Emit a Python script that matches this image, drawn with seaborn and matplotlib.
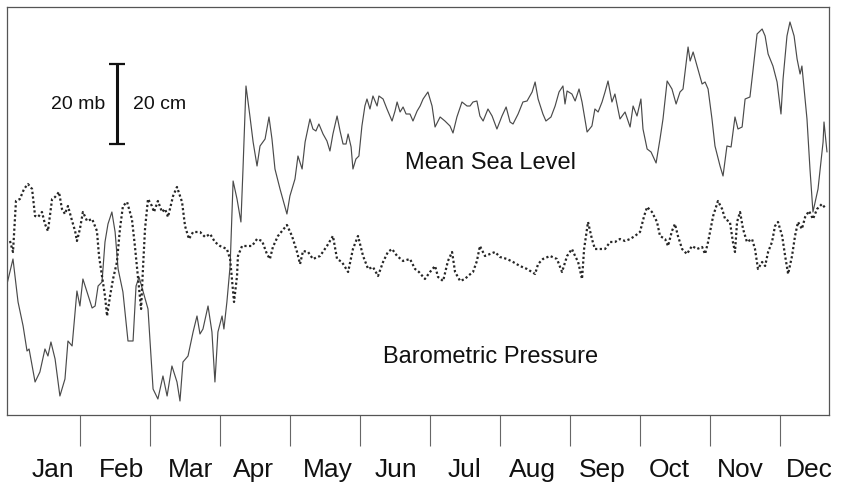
import matplotlib
matplotlib.use("Agg")
import matplotlib.pyplot as plt
import pandas as pd
import seaborn as sns

# ---------------- data ----------------
months = ["Jan", "Feb", "Mar", "Apr", "May", "Jun",
          "Jul", "Aug", "Sep", "Oct", "Nov", "Dec"]
month_bounds = [30.4, 60.8, 91.3, 121.7, 152.1, 182.5,
                212.9, 243.3, 273.8, 304.2, 334.6]
label_pos = [18.5, 48.5, 78.5, 106.0, 138.0, 168.0,
             197.5, 227.0, 257.5, 286.5, 317.5, 347.5]

# Mean sea level (cm, arbitrary datum) vs day of year
msl_day = [-1.3, 1.3, 3.5, 5.7, 7.4, 8.3, 10.9, 13.0, 15.2, 16.5,
           17.8, 19.6, 21.7, 23.9, 25.2, 27.0, 28.3, 29.1, 30.4, 31.7,
           33.5, 35.7, 37.0, 38.3, 40.0, 41.3, 42.6, 44.3, 45.7, 47.0,
           49.1, 51.3, 53.5, 54.8, 56.1, 57.8, 60.0, 62.2, 64.3, 66.5,
           68.3, 70.4, 72.6, 73.9, 75.2, 77.4, 79.6, 81.3, 82.6, 83.9,
           86.1, 87.8, 89.1, 90.4, 92.2, 93.0, 94.3, 95.7, 97.0, 98.7,
           100.4, 101.3, 102.6, 104.3, 105.7, 107.4, 108.7, 110.9, 112.6, 113.9,
           115.2, 117.4, 120.4, 121.7, 123.9, 125.2, 127.0, 128.3, 130.4, 131.7,
           133.0, 134.3, 136.1, 137.8, 139.1, 140.4, 142.2, 143.5, 144.8, 146.1,
           147.0, 148.3, 149.1, 150.4, 151.7, 153.0, 154.3, 155.2, 156.5, 157.8,
           159.6, 160.4, 162.2, 163.9, 166.1, 167.4, 168.3, 169.6, 170.9, 172.2,
           173.9, 175.2, 177.0, 178.3, 179.6, 181.7, 183.5, 184.8, 187.0, 189.1,
           191.3, 192.6, 194.3, 196.5, 198.7, 200.0, 201.3, 203.0, 204.3, 205.7,
           207.8, 209.6, 211.7, 213.9, 215.7, 217.4, 218.7, 220.9, 223.0, 224.8,
           227.0, 228.3, 229.6, 231.7, 233.0, 235.2, 237.0, 238.7, 240.4, 241.3,
           242.2, 244.3, 245.7, 247.4, 248.7, 250.9, 253.0, 254.3, 255.7, 257.4,
           258.7, 260.0, 261.7, 263.0, 265.2, 267.4, 269.6, 270.9, 272.6, 274.3,
           275.2, 277.0, 278.7, 280.9, 282.6, 283.9, 285.7, 287.8, 289.6, 291.3,
           292.6, 294.8, 295.7, 297.0, 298.7, 300.9, 302.2, 303.5, 305.2, 306.5,
           308.7, 310.0, 311.7, 313.5, 315.2, 316.5, 318.3, 319.6, 321.7, 323.0,
           324.8, 327.0, 328.3, 329.6, 331.7, 333.5, 335.2, 336.1, 337.8, 339.1,
           340.9, 342.2, 343.5, 344.3, 346.5, 347.8, 349.1, 351.3, 353.5, 353.9,
           355.2]
msl_cm = [32.75, 39, 28.25, 22.25, 16, 16.5, 8.25, 10.75, 16.5, 14.75,
          18.25, 14, 4.75, 9, 18.5, 17.25, 25.75, 31, 27.25, 34,
          30.75, 26.75, 27.25, 32.25, 33.25, 43.25, 47.75, 50.75, 45.75, 36.5,
          30.75, 18.5, 18.5, 32.25, 34.5, 31, 26.5, 6.5, 4, 9.75,
          4.75, 12.25, 8.25, 3.5, 13.25, 14.75, 20.75, 24.75, 20.25, 21.5,
          27.25, 20.75, 8.25, 20.75, 24.75, 21.5, 28.25, 37.25, 58.5, 54,
          48.25, 61.5, 82.25, 74.75, 68.25, 62.25, 67.25, 69, 74.5, 69,
          61.5, 56.5, 50.25, 54.75, 59, 64.75, 61.5, 68.25, 74, 71.5,
          71, 72.75, 70.25, 68.5, 66, 70.25, 74.75, 71, 67.75, 67.75,
          70.25, 67, 61.5, 64, 64.75, 72.25, 77.25, 79, 76.5, 79.75,
          77.25, 79.75, 79, 76.5, 73.5, 76, 78.25, 75.75, 77, 75.25,
          75.25, 73.5, 76, 77.25, 79, 80.75, 77.25, 72, 74.5, 73.5,
          72.25, 70.5, 74.5, 78.25, 77.25, 77.25, 78.25, 78.5, 74.75, 73.5,
          76.5, 74.75, 71.5, 74.75, 77, 73.25, 72.75, 75.25, 78.25, 78.5,
          80.75, 83.25, 79, 75.25, 73.5, 74.5, 77.25, 80.75, 82.25, 77.75,
          81, 80.25, 78.5, 81.5, 78.25, 70.75, 72.25, 76.5, 75.75, 78.25,
          80.75, 83.5, 78.25, 80.25, 74, 75.75, 72, 77.25, 74.75, 79,
          71.5, 66.5, 65.75, 63, 69, 74, 83.5, 81.5, 77.75, 80.75,
          81.5, 92, 88.5, 90.75, 87.25, 82.75, 83.25, 81.5, 74, 67.25,
          62.25, 59.75, 67.25, 67, 74.5, 71.5, 72, 79, 79.5, 86,
          95.25, 96.5, 94.75, 90.25, 87.25, 83.25, 75.25, 84, 94.75, 98.25,
          94.75, 89, 85.25, 87.25, 74, 61.5, 50.75, 56.5, 68.25, 73.25,
          65.75]

# Barometric pressure (mb, inverted-barometer scale) vs day of year
bp_day = [0, 1.3, 2.6, 4.3, 6.1, 7.8, 9.6, 10.9, 12.2, 13.9,
          15.2, 16.5, 18.3, 19.6, 21.3, 22.6, 23.9, 25.2, 27.0, 28.3,
          29.1, 30.4, 31.7, 33.5, 35.7, 37.8, 38.7, 40.0, 41.3, 42.2,
          43.5, 44.8, 46.5, 47.8, 49.1, 50.9, 53.0, 54.3, 55.7, 57.0,
          57.8, 58.7, 60.0, 61.7, 62.6, 64.3, 66.1, 67.4, 68.7, 70.9,
          72.6, 74.8, 76.1, 77.8, 79.6, 82.6, 84.8, 87.0, 89.1, 91.3,
          94.3, 95.7, 96.5, 97.4, 98.7, 99.1, 100.9, 103.0, 105.2, 107.4,
          109.6, 111.7, 113.0, 114.3, 116.5, 120.4, 122.6, 124.8, 126.1, 127.4,
          129.6, 131.7, 134.8, 137.8, 140.4, 142.2, 144.3, 147.0, 149.1, 151.3,
          153.5, 155.7, 157.8, 160.0, 162.2, 164.3, 166.1, 168.3, 170.9, 173.9,
          176.1, 177.8, 180.4, 182.6, 184.8, 186.1, 188.3, 190.4, 192.2, 193.5,
          195.7, 197.8, 199.1, 201.3, 203.0, 204.3, 206.5, 208.7, 210.9, 213.0,
          216.1, 218.7, 221.7, 224.8, 228.3, 229.6, 231.7, 234.8, 237.8, 240.0,
          242.2, 244.3, 245.7, 247.0, 248.7, 249.6, 251.3, 253.0, 254.3, 256.5,
          258.7, 260.9, 263.0, 265.2, 267.4, 269.6, 271.7, 273.9, 275.7, 277.0,
          279.1, 281.3, 282.6, 284.8, 286.1, 287.8, 289.1, 290.4, 292.2, 294.3,
          296.5, 298.7, 300.9, 302.2, 303.5, 305.7, 307.8, 309.6, 310.9, 313.0,
          314.3, 315.2, 316.1, 317.4, 318.7, 320.4, 322.6, 323.9, 325.2, 327.0,
          328.3, 329.6, 331.3, 332.6, 333.9, 335.7, 337.0, 338.3, 340.0, 341.3,
          342.6, 344.3, 345.7, 347.4, 349.1, 350.9, 353.0, 354.8]
bp_mb = [43.5, 40.75, 53.5, 54, 56.5, 57.75, 56.5, 49.75, 49.5, 50.75,
         47.75, 46, 54, 54.5, 55.75, 51.5, 50.25, 52.25, 48.5, 46,
         43.5, 46.5, 50.75, 48.5, 49, 46, 39.75, 34.75, 29.75, 24.75,
         29.75, 34, 38.25, 46.5, 52.25, 53.25, 49, 42.25, 34, 26.5,
         36.5, 46.5, 54, 52.25, 50.75, 53.5, 50.75, 51.5, 49.5, 54.75,
         57, 53.25, 47.25, 44, 45.75, 45.75, 44.5, 45.25, 43.25, 42.25,
         41.5, 39, 34, 28.25, 34.75, 39.75, 42.25, 42.25, 42.25, 44,
         43.5, 40.25, 39, 42, 44.75, 47.5, 44.75, 40.75, 37.75, 41,
         40.75, 39, 39.75, 42.25, 44.75, 39, 38.25, 35.75, 41.5, 44.75,
         39.75, 36.5, 37, 34.75, 38.25, 40.75, 41.5, 39.75, 38.5, 39,
         36.5, 35.75, 34, 35.75, 37.25, 34.5, 33.5, 38.5, 40.75, 35.75,
         33.5, 34, 34.75, 35.75, 38.5, 42.25, 39.75, 40.25, 40.75, 39.5,
         39, 38.25, 37.25, 36.5, 35.25, 37.75, 39, 39.75, 39, 35.75,
         39.75, 41.5, 39.75, 38.25, 34, 41.5, 48.25, 44, 41.5, 41.5,
         41.5, 43.25, 43.25, 44, 43.5, 44, 44.75, 45.75, 49.75, 52,
         50.75, 48.25, 44.75, 44, 42.25, 46, 47.75, 44.75, 41.5, 40.25,
         42.25, 41.5, 42, 40.25, 43.25, 49.75, 53.5, 51.5, 49, 48.25,
         43.25, 40.75, 48.25, 50.75, 46.5, 43.25, 44, 41.5, 36.5, 38.25,
         37.25, 40.75, 43.25, 47.25, 48.25, 44.75, 39.75, 35.25, 39.75, 44.75,
         48.25, 46.5, 49.5, 51, 49, 51.5, 52.75, 51.5]

msl = pd.DataFrame({"day": msl_day, "value": msl_cm})
bp = pd.DataFrame({"day": bp_day, "value": bp_mb})

# ---------------- styling ----------------
sns.set_style("white")
plt.rcParams["font.family"] = ["Liberation Sans", "DejaVu Sans"]

fig = plt.figure(figsize=(8.44, 4.85), dpi=100)
ax = fig.add_axes([0.0083, 0.1423, 0.974, 0.8412])

sns.lineplot(data=msl, x="day", y="value", ax=ax, color="#4a4a4a",
             linewidth=0.85, estimator=None, sort=False)
sns.lineplot(data=bp, x="day", y="value", ax=ax, color="#262626",
             linewidth=1.6, linestyle=(0, (1, 1.1)), estimator=None, sort=False)

ax.set_xlim(-1.3, 356.1)
ax.set_ylim(0, 102)
ax.set_xlabel("")
ax.set_ylabel("")
ax.set_yticks([])

ax.set_xticks(month_bounds)
ax.set_xticklabels([])
ax.set_xticks(label_pos, minor=True)
ax.set_xticklabels(months, minor=True, fontsize=19, color="#111111")
ax.tick_params(axis="x", which="major", bottom=True, direction="out",
               length=22, width=0.8, color="#666666")
ax.tick_params(axis="x", which="minor", bottom=True, labelbottom=True,
               length=0, pad=30)

for s in ax.spines.values():
    s.set_color("#555555")
    s.set_linewidth(0.9)

# scale bar
ax.errorbar([46.5], [77.75], yerr=[10], fmt="none", ecolor="#111111",
            elinewidth=2.2, capsize=6, capthick=1.6)
ax.text(41.3, 77.75, "20 mb", ha="right", va="center", fontsize=14, color="#111111")
ax.text(53.5, 77.75, "20 cm", ha="left", va="center", fontsize=14, color="#111111")

ax.text(208.7, 63.25, "Mean Sea Level", ha="center", va="center",
        fontsize=17, color="#111111")
ax.text(209.0, 14.75, "Barometric Pressure", ha="center", va="center",
        fontsize=17, color="#111111")

fig.savefig("out.png", dpi=100)
